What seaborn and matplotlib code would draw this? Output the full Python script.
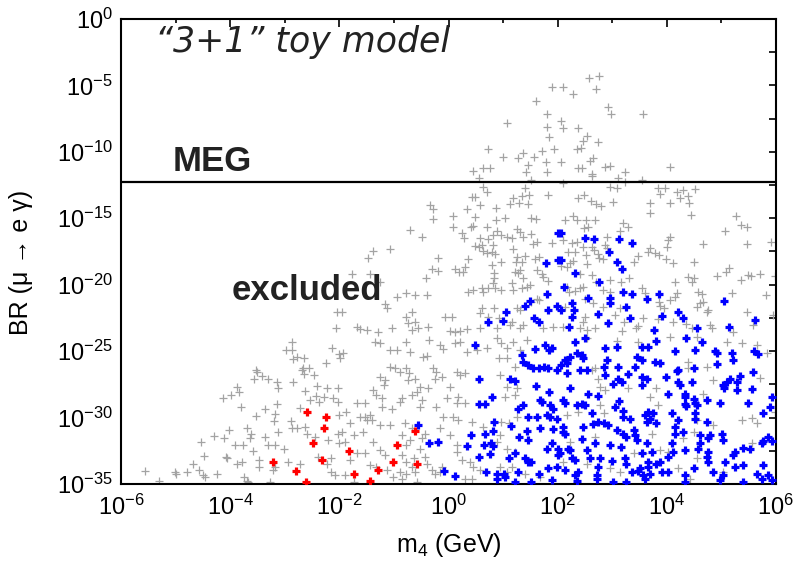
import numpy as np
import pandas as pd
import matplotlib
matplotlib.use("Agg")
import matplotlib.pyplot as plt
from matplotlib.ticker import NullFormatter, FixedLocator
import seaborn as sns

# ---- data: (log10 m4 [GeV], log10 BR(mu -> e gamma)) ----
gray_points = [
 (1.89,-5.10),(1.60,-6.17),(1.81,-7.18),(1.08,-7.81),(1.81,-8.16),(1.85,-8.86),(0.72,-9.81),(1.00,-10.37),
 (1.28,-10.49),(1.36,-10.07),(1.57,-10.37),(1.71,-9.94),(1.94,-9.81),(1.79,-10.75),(1.46,-10.99),(0.44,-11.42),
 (0.64,-11.24),(0.76,-11.20),(1.42,-11.50),(1.81,-11.50),
 (2.10,-5.14),(2.28,-5.67),(2.58,-4.42),(2.76,-4.27),(2.70,-5.27),(2.93,-6.60),(2.97,-7.18),(3.57,-7.18),
 (2.07,-7.68),(2.09,-8.23),(2.38,-8.23),(2.53,-8.81),(2.46,-9.19),(2.73,-9.24),(2.35,-9.81),(2.42,-9.74),
 (2.07,-10.75),(2.59,-10.69),(2.65,-10.49),(2.38,-11.24),(2.44,-11.20),(2.87,-11.12),(2.95,-11.05),(3.23,-11.54),
 (4.05,-11.12),(2.62,-11.69),
 (0.55,-11.95),(0.64,-12.63),(0.71,-13.05),(1.51,-12.12),(1.40,-12.70),(1.34,-13.31),(1.48,-13.25),(1.19,-13.50),
 (0.43,-13.38),(0.49,-13.38),(-0.34,-14.01),(-0.29,-14.31),(0.34,-14.33),(0.58,-14.01),(0.87,-14.25),(1.13,-13.95),
 (1.30,-13.88),(1.46,-13.95),(1.83,-13.25),(-0.29,-15.08),(0.09,-14.83),(0.49,-14.93),(0.87,-15.14),(1.04,-14.96),
 (1.52,-14.96),(1.60,-15.08),(0.09,-15.69),(0.41,-15.69),(0.45,-15.56),(0.70,-15.69),(0.24,-16.14),(0.28,-16.51),
 (-0.71,-15.89),(-0.49,-16.44),(0.88,-15.94),(1.25,-15.84),(1.31,-16.02),(1.36,-16.39),(1.07,-16.39),(0.97,-16.27),
 (0.82,-16.27),(1.52,-16.19),(0.58,-16.51),(0.73,-16.57),(1.16,-16.51),(1.62,-16.77),(1.55,-16.94),(0.49,-17.07),
 (0.55,-17.15),(0.61,-17.02),(0.82,-17.02),(1.89,-16.89),(-1.07,-17.32),(-1.38,-17.47),(-1.47,-17.97),(-0.19,-17.97),
 (0.64,-17.47),(0.70,-17.60),(0.79,-17.57),(0.85,-17.67),(1.19,-17.32),(1.25,-17.90),(1.40,-17.82),(0.36,-18.09),
 (1.58,-18.07),(1.66,-17.90),(0.79,-18.52),(0.97,-18.32),(1.24,-18.32),(1.34,-18.28),(-0.31,-18.83),(-0.19,-18.98),
 (0.12,-18.83),(0.20,-19.03),(0.27,-19.07),(0.30,-18.65),(0.83,-19.15),(1.22,-19.03),(1.28,-19.15),(1.31,-18.90),
 (1.63,-18.90),(1.71,-19.22),(-1.77,-19.22),(-1.44,-19.22),(-0.41,-19.53),(0.83,-19.53),(0.82,-19.90),(1.16,-19.90),
 (1.36,-19.48),(1.43,-20.16),(1.49,-20.03),(1.74,-19.41),(1.83,-19.73),(-1.26,-19.83),(0.36,-20.53),(0.44,-20.41),
 (0.61,-20.28),(0.64,-20.53),(0.73,-20.28),(0.85,-20.28),(0.97,-20.41),(1.19,-20.41),(1.34,-20.28),(1.62,-21.08),
 (-0.95,-20.91),(-0.77,-20.66),(-0.61,-20.78),(-0.40,-20.78),(-1.16,-21.48),(-1.13,-21.78),(0.61,-21.78),(0.58,-22.16),
 (0.83,-21.78),(1.25,-21.78),(1.31,-21.91),(1.52,-21.29),(1.65,-21.16),(-1.96,-22.04),(-0.67,-22.04),(-0.77,-22.42),
 (-0.61,-22.79),(-0.74,-22.91),(-0.06,-22.42),(0.06,-22.42),(0.73,-22.42),(0.93,-22.54),(1.16,-22.79),(1.13,-23.04),
 (1.31,-23.25),(1.37,-23.04),(1.74,-23.29),(1.92,-23.17),(-1.68,-23.17),(-1.62,-23.34),(-1.50,-23.42),(-1.29,-23.55),
 (-1.04,-23.29),(-0.67,-23.42),(-0.55,-23.29),(-0.37,-23.17),(0.03,-23.49),(0.12,-23.55),(0.21,-23.49),(0.33,-23.34),
 (0.58,-23.29),(0.88,-23.25),(-2.05,-22.04),(-2.06,-23.29),
 (2.09,-12.37),(2.62,-11.82),(3.11,-11.95),(3.23,-12.25),(3.54,-12.12),(2.96,-12.63),(3.09,-12.70),(3.84,-12.75),
 (3.97,-12.70),(3.88,-13.18),(4.18,-13.00),(4.30,-12.88),(4.25,-13.50),(4.38,-13.31),(4.52,-12.80),(4.41,-13.88),
 (2.38,-13.46),(2.48,-13.25),(2.61,-13.70),(2.70,-13.95),(2.79,-14.06),(3.02,-13.80),(3.69,-13.88),(3.70,-14.63),
 (4.06,-13.88),(4.44,-14.76),(2.29,-14.83),(2.13,-15.14),(2.35,-15.14),(2.52,-15.14),(2.68,-15.14),(2.56,-15.64),
 (2.48,-15.76),(3.19,-15.38),(3.29,-15.69),(3.14,-15.96),(5.27,-14.81),(5.35,-15.51),(5.47,-15.69),(5.07,-15.96),
 (4.06,-16.39),(4.03,-16.64),(4.66,-16.97),(5.47,-16.94),(5.91,-16.81),(2.90,-16.44),(2.10,-16.64),(2.26,-16.89),
 (2.35,-16.77),(2.46,-17.15),(2.62,-17.15),(2.67,-17.39),(2.87,-17.02),(2.90,-17.22),(3.69,-17.27),(3.66,-17.57),
 (3.78,-17.60),(3.86,-17.77),(4.00,-17.15),(3.98,-18.07),(4.11,-18.40),(3.48,-17.85),(3.40,-18.28),(2.19,-17.52),
 (2.32,-17.57),(2.52,-17.77),(2.73,-17.72),(2.76,-18.02),(2.83,-18.09),(2.29,-18.22),(2.23,-18.40),(2.07,-18.58),
 (2.53,-18.47),(2.17,-18.65),(4.49,-18.32),(5.13,-18.77),(5.08,-19.07),(4.91,-19.33),(4.39,-19.41),(4.50,-19.48),
 (4.47,-19.83),(5.35,-19.65),(5.49,-19.28),(5.54,-19.33),(5.71,-19.22),(5.98,-19.33),(4.15,-19.78),(2.41,-19.22),
 (2.62,-19.28),(2.70,-19.78),(2.96,-19.65),(3.16,-19.83),(3.31,-19.53),(2.17,-20.16),(2.32,-20.48),(2.40,-20.23),
 (2.47,-20.16),(2.21,-20.58),(2.96,-20.58),(2.83,-20.41),(3.54,-20.28),(3.60,-20.66),(4.58,-20.53),(4.64,-20.73),
 (4.67,-21.29),(4.60,-21.41),(4.55,-21.66),(4.18,-20.66),(4.15,-20.91),(4.05,-21.16),(3.86,-21.29),(3.88,-21.59),
 (5.19,-20.66),(5.82,-20.78),(4.76,-21.91),(4.73,-22.04),(2.50,-21.08),(2.65,-21.41),(2.83,-21.66),(2.13,-21.66),
 (3.14,-21.74),(3.05,-22.29),(3.22,-22.79),(3.44,-23.29),(3.48,-23.10),(3.57,-22.54),(3.84,-22.59),(3.94,-21.78),
 (2.50,-22.42),(2.46,-22.79),(2.41,-23.29),(2.10,-23.17),(2.53,-23.42),(2.68,-23.25),(4.12,-22.79),(4.35,-22.99),
 (4.47,-23.29),(4.79,-23.04),(4.82,-23.25),(5.46,-22.09),(5.95,-22.29),(5.57,-23.04),(5.22,-23.55),(3.17,-23.49),
 (-2.87,-24.30),(-2.98,-24.92),(-2.87,-24.92),(-2.85,-25.60),(-2.77,-25.43),(-2.65,-25.55),(-2.14,-24.80),(-2.00,-25.25),
 (-2.25,-25.93),(-2.69,-26.43),(-2.67,-26.30),(-2.55,-26.26),(-2.64,-26.75),(-2.46,-26.81),(-3.53,-26.43),(-3.50,-26.60),
 (-3.56,-27.06),(-3.42,-26.88),(-3.30,-27.11),(-3.15,-27.31),(-3.12,-27.81),(-2.85,-27.31),(-3.88,-27.69),(-3.83,-28.06),
 (-3.99,-28.31),(-4.13,-28.52),(-2.63,-28.01),(-2.41,-27.61),(-2.22,-27.76),(-2.02,-27.76),(-2.43,-28.39),(-2.54,-28.69),
 (-2.37,-28.82),(-2.28,-28.44),(-2.11,-28.56),(-2.02,-28.82),(-3.81,-29.19),(-3.53,-29.89),(-3.36,-29.37),(-3.15,-29.01),
 (-3.18,-29.74),(-3.19,-30.27),(-2.72,-29.27),(-2.00,-29.77),(-2.89,-30.27),(-2.87,-30.78),(-2.78,-30.82),(-2.63,-30.70),
 (-2.60,-31.20),(-3.12,-31.12),(-3.37,-31.45),(-3.30,-32.08),(-3.18,-32.08),(-3.01,-32.38),(-3.70,-30.78),(-3.61,-31.20),
 (-3.64,-31.57),(-3.77,-32.03),(-3.91,-32.08),(-3.58,-32.53),(-4.02,-30.90),(-4.11,-31.57),(-4.30,-31.38),(-4.54,-31.87),
 (-4.48,-32.88),(-4.08,-32.96),(-4.05,-33.08),(-2.45,-31.45),(-2.20,-31.70),(-2.02,-31.20),(-2.00,-31.95),(-2.40,-32.96),
 (-2.16,-33.03),(-2.23,-33.46),(-2.15,-34.13),(-2.08,-34.34),(-3.88,-33.46),(-3.79,-33.34),(-3.47,-33.21),(-3.48,-33.71),
 (-4.69,-33.46),(-4.57,-33.96),(-4.50,-34.34),(-4.47,-34.47),(-4.25,-34.28),(-5.01,-34.09),(-4.80,-34.09),(-4.99,-34.21),
 (-5.56,-34.04),(-5.30,-34.77),(-3.75,-34.47),(-3.70,-34.77),(-3.67,-34.84),(-3.21,-33.96),(-3.18,-33.71),(-2.94,-33.34),
 (-2.72,-33.53),(-3.27,-34.84),
 (-1.35,-24.30),(-1.26,-24.35),(-1.07,-24.92),(-0.95,-24.92),(-0.77,-24.30),(-0.71,-25.05),(-0.46,-25.43),(-0.39,-25.35),
 (-0.35,-24.17),(-0.16,-24.55),(-0.10,-24.85),(0.12,-24.42),(0.21,-24.30),(0.33,-25.05),(0.52,-24.92),(0.70,-24.80),
 (0.88,-24.04),(0.97,-24.42),(1.07,-24.80),(1.19,-24.30),(1.31,-24.92),(1.43,-24.17),(0.93,-25.55),(1.07,-25.55),
 (1.22,-26.18),(-1.93,-25.17),(-1.99,-25.55),(-1.07,-26.18),(-0.98,-26.30),(-0.89,-26.56),(-0.77,-26.30),(-0.72,-26.68),
 (-0.28,-26.30),(-0.22,-26.56),(-0.25,-27.06),(0.15,-26.56),(0.21,-26.81),(0.30,-26.68),(-1.26,-26.94),(-1.16,-27.18),
 (-1.19,-27.56),(-1.38,-27.94),(-1.32,-28.31),(-1.22,-28.56),(-0.74,-27.18),(-0.61,-27.06),(-0.52,-27.69),(-0.37,-27.81),
 (-0.58,-28.06),(-0.67,-28.31),(-0.49,-28.69),(-0.86,-28.52),(-0.89,-28.82),(-0.12,-26.94),(0.03,-27.69),(-0.03,-28.56),
 (0.18,-28.44),(0.15,-28.94),(0.30,-28.94),(0.94,-26.81),(1.07,-27.69),(1.04,-28.44),(1.22,-28.31),(1.25,-27.81),
 (-1.68,-28.94),(-1.53,-28.94),(-1.87,-29.57),(-1.80,-30.44),(-1.22,-29.19),(-1.04,-29.32),(-0.52,-29.19),(-0.22,-29.19),
 (-0.10,-29.95),(0.09,-29.95),(-1.62,-29.95),(-1.53,-29.95),(-1.44,-29.82),(-1.50,-30.20),(-1.41,-30.20),(-1.26,-30.57),
 (-1.07,-30.57),(-0.80,-30.44),(-0.67,-30.82),(0.18,-30.20),(0.43,-30.32),(0.64,-30.70),(0.97,-30.32),(1.10,-30.44),
 (1.25,-29.95),(-1.56,-31.08),(-1.38,-31.83),(-1.74,-31.33),(-1.90,-31.83),(-1.96,-31.08),(-0.86,-31.33),(-0.71,-31.70),
 (-0.77,-32.08),(-0.49,-31.57),(-0.43,-31.20),(-0.16,-30.82),(0.03,-31.33),(0.15,-32.08),(0.15,-32.58),(0.94,-31.33),
 (0.88,-31.83),(1.07,-32.33),(1.22,-32.58),(-1.26,-32.45),(-1.16,-32.83),(-1.68,-32.70),(-1.53,-32.70),(-1.80,-33.21),
 (-0.86,-32.83),(-0.77,-33.34),(-0.64,-33.08),(-0.67,-33.71),(-0.52,-32.33),(-0.43,-32.96),(-0.40,-33.46),(-0.31,-33.96),
 (-0.12,-33.71),(-0.25,-34.21),(-0.16,-34.09),(0.24,-33.21),(0.39,-33.34),(0.45,-33.71),(0.30,-34.59),(0.43,-34.59),
 (0.58,-33.96),(0.94,-33.71),(1.07,-34.09),(1.16,-33.71),(1.40,-34.21),(1.68,-34.47),(-0.89,-34.09),(-0.77,-34.21),
 (-0.86,-34.59),(-0.61,-34.09),(-0.58,-34.84),(-1.01,-34.47),(-1.44,-33.58),(-1.32,-33.71),(-1.13,-33.96),(-1.74,-34.84),
 (-1.90,-34.34),
 (2.53,-24.04),(3.08,-24.25),(3.48,-24.30),(4.06,-23.92),(4.55,-23.92),(5.10,-24.30),(5.37,-24.42),(5.65,-24.55),
 (5.83,-25.17),(4.39,-25.81),(4.39,-26.30),(4.73,-26.18),(2.68,-26.30),(2.62,-26.43),(2.74,-27.06),(2.78,-27.69),
 (2.87,-27.94),(3.29,-27.81),(3.69,-28.44),(3.81,-27.81),(4.85,-27.18),(5.71,-27.01),(4.67,-28.26),(2.78,-29.07),
 (2.84,-29.69),(2.17,-29.82),(2.38,-29.57),(3.84,-29.07),(4.55,-30.20),(4.85,-30.57),(5.37,-30.20),(5.56,-30.02),
 (5.65,-30.44),(5.98,-29.57),(3.72,-31.20),(2.68,-31.45),(4.30,-31.57),(4.49,-31.08),(5.56,-31.95),(2.23,-31.83),
 (3.88,-32.45),(4.03,-32.58),(3.57,-32.70),(3.39,-32.70),(2.53,-33.46),(2.96,-33.83),(4.55,-33.08),(4.21,-33.83),
 (5.03,-34.09),(2.10,-33.34),(3.14,-34.09),(4.42,-34.59),
]

blue_points = [
 (2.01,-16.14),(1.78,-18.40),(2.01,-18.15),(1.80,-20.73),(1.49,-21.21),(1.40,-21.61),(1.05,-22.04),(1.83,-21.91),
 (1.98,-21.61),(1.57,-22.54),(1.66,-22.84),(0.99,-22.74),(0.73,-22.84),
 (2.07,-16.14),(2.50,-16.47),(2.67,-16.57),(3.13,-16.57),(3.36,-16.89),(2.94,-17.52),(3.08,-18.32),(3.17,-18.83),
 (2.07,-18.15),(2.32,-19.15),(2.76,-19.83),(2.12,-20.16),(3.20,-20.58),(3.36,-20.73),(3.63,-21.08),(3.86,-20.73),
 (2.55,-21.03),(2.95,-21.03),(2.95,-21.41),(2.26,-21.41),(2.30,-21.91),(2.07,-21.91),(2.26,-22.42),(2.74,-22.21),
 (3.26,-21.71),(3.33,-22.54),(4.21,-22.04),(4.30,-22.54),(3.91,-22.34),(5.05,-21.21),(5.62,-22.67),(2.93,-22.91),
 (2.21,-23.17),(3.77,-23.42),(4.55,-23.25),(5.13,-23.17),
 (-0.56,-30.57),(-0.35,-31.91),(-0.19,-31.83),(-0.08,-34.04),(0.12,-34.41),(0.49,-24.55),(0.56,-27.11),(0.55,-28.99),
 (0.67,-28.99),(0.79,-28.44),(0.83,-30.37),(0.41,-31.33),(0.67,-31.27),(0.81,-31.00),(0.33,-32.15),(0.65,-32.08),
 (0.77,-31.95),(0.81,-32.13),(0.55,-33.00),(0.76,-32.76),(0.69,-34.13),(0.88,-34.21),(1.02,-34.21),(0.88,-34.59),
 (1.04,-34.47),(1.13,-27.13),(1.22,-27.26),(1.34,-25.30),(1.36,-25.81),(1.58,-24.85),(1.77,-24.50),(1.85,-24.92),
 (1.90,-24.80),(1.46,-26.05),(1.55,-26.30),(1.66,-26.26),(1.75,-26.18),(1.83,-26.30),(1.98,-26.43),(1.60,-27.64),
 (1.85,-28.11),(1.68,-28.69),(1.71,-28.82),(1.86,-29.07),(1.92,-29.32),(1.37,-29.07),(1.28,-29.37),(1.46,-29.95),
 (1.62,-29.95),(1.80,-29.82),(1.86,-29.95),(1.98,-30.07),(1.15,-30.63),(1.43,-31.00),(1.68,-30.82),(1.92,-30.87),
 (1.29,-31.45),(1.46,-31.70),(1.89,-31.95),(1.80,-32.33),(2.01,-32.33),(1.22,-32.63),(1.10,-33.08),(1.40,-33.08),
 (1.46,-33.34),(1.52,-33.34),(1.28,-34.09),(1.65,-34.21),(1.83,-33.83),(1.98,-33.71),(1.22,-34.84),(1.52,-34.84),
 (1.89,-34.71),(2.01,-32.83),
 (2.32,-24.30),(2.50,-24.04),(2.87,-24.80),(3.09,-24.67),(3.54,-24.67),(3.66,-24.67),(3.81,-24.25),(4.15,-25.00),
 (4.35,-24.00),(4.52,-24.92),(4.64,-24.30),(4.88,-25.00),(4.91,-25.17),(5.19,-25.17),(5.22,-25.68),(5.60,-25.00),
 (5.67,-25.25),(2.13,-25.68),(2.23,-25.43),(2.35,-25.17),(2.44,-25.30),(2.47,-25.55),(2.17,-25.93),(2.07,-26.05),
 (2.41,-26.43),(2.53,-26.43),(2.84,-26.18),(2.90,-25.68),(3.11,-26.18),(3.42,-26.18),(3.46,-25.43),(3.54,-25.68),
 (3.78,-25.81),(3.88,-25.93),(4.18,-26.51),(4.21,-26.43),(2.17,-26.68),(2.87,-26.81),(3.29,-26.75),(3.54,-26.94),
 (3.63,-27.06),(3.98,-26.94),(4.49,-26.26),(4.91,-26.00),(5.57,-26.60),(3.11,-27.06),(3.17,-27.31),(3.02,-27.51),
 (3.54,-27.56),(4.21,-27.31),(4.24,-27.56),(4.46,-27.31),(5.10,-27.31),(5.16,-27.06),(5.34,-26.86),(5.28,-27.36),
 (2.23,-27.76),(5.03,-27.56),(5.05,-27.81),(5.28,-27.94),(5.56,-27.86),(2.56,-28.19),(2.74,-28.37),(4.03,-28.26),
 (4.33,-28.19),(4.33,-28.44),(5.92,-28.44),(2.10,-28.69),(2.13,-28.94),(2.35,-29.07),(2.44,-29.01),(2.50,-29.07),
 (3.05,-29.19),(3.13,-28.77),(4.33,-29.01),(4.36,-29.12),(4.49,-28.61),(4.52,-28.94),(4.55,-29.07),(4.73,-28.69),
 (4.97,-28.94),(5.49,-28.94),(5.89,-29.19),(2.62,-29.69),(3.20,-29.52),(3.20,-29.95),(3.33,-30.12),(3.60,-29.82),
 (3.66,-29.57),(3.75,-29.62),(3.69,-30.07),(3.63,-30.37),(3.81,-30.44),(4.09,-29.69),(4.52,-29.62),(5.77,-29.62),
 (2.65,-30.52),(2.74,-30.37),(2.84,-30.44),(2.93,-30.57),(2.10,-30.70),(2.47,-30.70),(3.08,-30.95),(3.40,-30.95),
 (4.15,-30.70),(4.21,-30.20),(4.52,-30.12),(4.73,-30.37),(2.13,-31.20),(2.10,-31.08),(3.20,-31.27),(3.26,-31.45),
 (3.42,-31.33),(3.45,-31.70),(4.15,-31.20),(4.30,-31.12),(4.61,-31.33),(4.79,-31.33),(5.01,-31.20),(5.02,-31.70),
 (2.44,-31.63),(2.68,-31.95),(2.96,-32.03),(3.16,-32.21),(3.63,-31.95),(4.09,-31.95),(4.61,-31.95),(4.76,-31.57),
 (5.77,-31.78),(5.86,-31.45),(5.92,-31.78),(2.19,-32.33),(2.23,-32.45),(2.53,-32.45),(4.12,-32.58),(4.33,-32.45),
 (4.58,-32.33),(4.76,-32.58),(5.25,-32.58),(5.40,-32.28),(5.52,-32.33),(5.74,-31.95),(2.04,-32.70),(2.26,-33.08),
 (2.32,-33.21),(2.59,-33.08),(2.78,-33.08),(2.99,-33.28),(3.23,-33.03),(3.54,-32.63),(3.72,-32.58),(3.66,-33.34),
 (3.88,-33.34),(4.03,-32.96),(4.73,-32.96),(4.76,-33.34),(5.22,-32.83),(5.07,-33.34),(2.74,-33.71),(3.26,-33.46),
 (3.51,-33.79),(3.66,-33.71),(3.81,-33.46),(4.49,-33.83),(5.25,-33.71),(5.40,-33.58),(5.76,-33.58),(2.13,-33.96),
 (2.32,-34.34),(2.38,-34.09),(2.72,-34.34),(3.36,-34.09),(3.48,-34.04),(3.57,-34.34),(3.69,-34.21),(3.91,-34.09),
 (4.03,-34.09),(4.33,-34.34),(4.85,-34.09),(5.03,-34.34),(5.65,-34.21),(5.86,-34.34),(2.35,-34.79),(2.72,-34.64),
 (3.02,-34.84),(3.26,-34.84),(3.60,-34.64),(4.33,-34.84),(4.97,-34.71),(5.40,-34.84),(5.74,-34.64),(5.92,-34.71),
]

red_points = [
 (-2.59,-29.57),(-2.24,-29.95),(-2.28,-30.78),(-2.49,-31.95),(-2.32,-33.21),(-3.22,-33.34),(-2.79,-34.01),(-2.61,-34.84),
 (-1.82,-32.51),(-1.74,-34.28),(-1.43,-34.77),(-1.29,-33.91),(-1.01,-33.34),(-0.94,-32.08),(-0.61,-31.00),(-0.58,-33.46),
]

meg_limit = 5.7e-13
x_major = [1e-6, 1e-4, 1e-2, 1e0, 1e2, 1e4, 1e6]
x_major_labels = ["-6", "-4", "-2", "0", "2", "4", "6"]
y_major_exp = [0, -5, -10, -15, -20, -25, -30, -35]

def to_frame(points):
    arr = np.array(points, dtype=float)
    return pd.DataFrame({"m4": 10 ** arr[:, 0], "br": 10 ** arr[:, 1]})

df_gray = to_frame(gray_points)
df_blue = to_frame(blue_points)
df_red = to_frame(red_points)

# ---- style ----
sns.set_theme(style="white")
plt.rcParams["font.family"] = ["Liberation Sans", "DejaVu Sans"]
plt.rcParams["mathtext.fontset"] = "custom"
plt.rcParams["mathtext.rm"] = "Liberation Sans"
plt.rcParams["mathtext.it"] = "Liberation Sans:italic"
plt.rcParams["mathtext.bf"] = "Liberation Sans:bold"

fig = plt.figure(figsize=(8.09, 5.68), dpi=100)
ax = fig.add_axes([121 / 809, 1 - 484 / 568, 655 / 809, 465 / 568])
ax.set_xscale("log")
ax.set_yscale("log")

sns.scatterplot(data=df_gray, x="m4", y="br", marker="+", color="#a3a3a3",
                s=34, linewidth=0.9, ax=ax, legend=False, zorder=2)
sns.scatterplot(data=df_blue, x="m4", y="br", marker="+", color="#0000ff",
                s=34, linewidth=2.3, ax=ax, legend=False, zorder=3)
sns.scatterplot(data=df_red, x="m4", y="br", marker="+", color="#ff0000",
                s=34, linewidth=2.3, ax=ax, legend=False, zorder=4)

ax.axhline(meg_limit, color="black", lw=1.6, zorder=5)

ax.set_xlim(1e-6, 1e6)
ax.set_ylim(1e-35, 1)

ax.xaxis.set_major_locator(FixedLocator(x_major))
ax.set_xticklabels([r"$\mathregular{10^{%s}}$" % s for s in x_major_labels])
ax.xaxis.set_minor_locator(FixedLocator([10.0 ** e for e in range(-5, 6, 2)]))
ax.xaxis.set_minor_formatter(NullFormatter())

ax.yaxis.set_major_locator(FixedLocator([10.0 ** e for e in y_major_exp]))
ax.set_yticklabels([r"$\mathregular{10^{%d}}$" % e for e in y_major_exp])
ax.yaxis.set_minor_locator(FixedLocator([10.0 ** (e - 2.5) for e in y_major_exp[:-1]]))
ax.yaxis.set_minor_formatter(NullFormatter())

ax.tick_params(which="both", direction="in", top=True, right=True, color="black",
               labelsize=17, labelcolor="black", width=1.2)
ax.tick_params(axis="x", which="major", length=6, pad=8)
ax.tick_params(axis="x", which="minor", length=3)
ax.tick_params(axis="y", which="both", length=5, pad=6)

for sp in ax.spines.values():
    sp.set_visible(True)
    sp.set_color("black")
    sp.set_linewidth(1.5)

ax.set_xlabel(r"m$_\mathregular{4}$ (GeV)", fontsize=18, color="black")
ax.set_ylabel("BR (μ → e γ)", fontsize=18, color="black")
ax.xaxis.set_label_coords(0.5, -0.102)
ax.yaxis.set_label_coords(-0.134, 0.477)

txt_color = "#222222"
ax.text(0.052, 0.929, "“3+1” toy model", transform=ax.transAxes, fontsize=25,
        family="DejaVu Sans", style="italic", color=txt_color, ha="left", va="baseline")
ax.text(0.079, 0.673, "MEG", transform=ax.transAxes, fontsize=25, fontweight="bold",
        color=txt_color, ha="left", va="baseline", zorder=6)
ax.text(0.169, 0.396, "excluded", transform=ax.transAxes, fontsize=25, fontweight="bold",
        color=txt_color, ha="left", va="baseline", zorder=6)

fig.savefig("out.png", dpi=100)
